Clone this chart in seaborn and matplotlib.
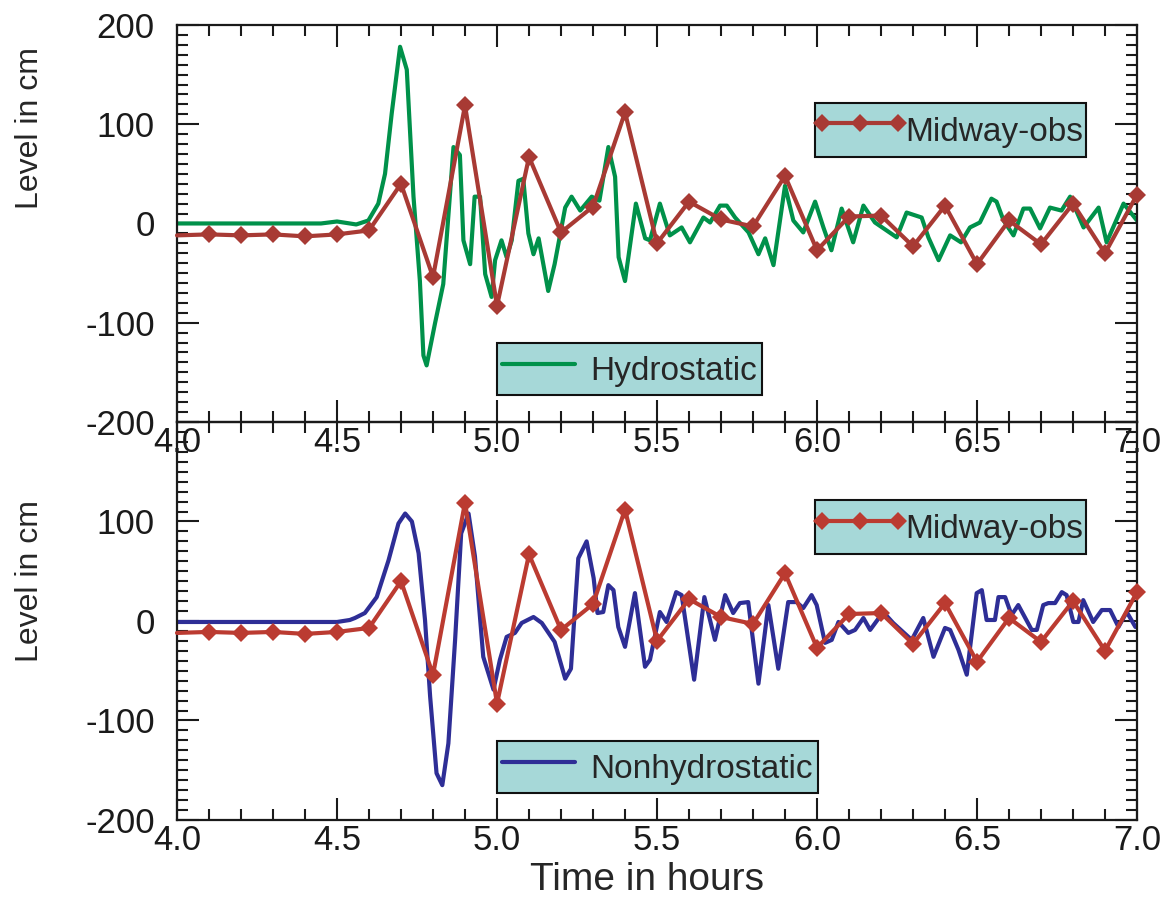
import matplotlib
matplotlib.use("Agg")
import matplotlib.pyplot as plt
from matplotlib.lines import Line2D
from matplotlib.legend_handler import HandlerLine2D
from matplotlib.ticker import MultipleLocator, FormatStrFormatter
import seaborn as sns
import pandas as pd

# Midway observations (every 0.1 hour)
obs_time = [4.0, 4.1, 4.2, 4.3, 4.4, 4.5, 4.6, 4.7, 4.8, 4.9, 5.0,
            5.1, 5.2, 5.3, 5.4, 5.5, 5.6, 5.7, 5.8, 5.9, 6.0,
            6.1, 6.2, 6.3, 6.4, 6.5, 6.6, 6.7, 6.8, 6.9, 7.0]
obs_level = [-12, -11, -12, -11, -13, -11, -7, 40, -54, 119, -83,
             67, -9, 17, 112, -20, 22, 4, -3, 48, -27,
             7, 8, -23, 18, -41, 3, -21, 20, -30, 29]

# hydrostatic model (vertices)
hyd_time = [4.0, 4.45, 4.5, 4.56, 4.598, 4.629, 4.65, 4.671, 4.697, 4.718,
            4.739, 4.759, 4.77, 4.78, 4.806, 4.832, 4.864, 4.884, 4.895, 4.916,
            4.93, 4.947, 4.963, 4.983, 4.994, 5.014, 5.03, 5.046, 5.067, 5.082,
            5.098, 5.114, 5.13, 5.16, 5.18, 5.213, 5.233, 5.26, 5.296, 5.32,
            5.348, 5.369, 5.38, 5.4, 5.434, 5.463, 5.478, 5.509, 5.54, 5.577,
            5.603, 5.645, 5.666, 5.697, 5.718, 5.744, 5.786, 5.817, 5.838, 5.864,
            5.9, 5.926, 5.957, 5.994, 6.02, 6.045, 6.077, 6.113, 6.145, 6.181,
            6.249, 6.28, 6.327, 6.348, 6.38, 6.416, 6.45, 6.478, 6.509, 6.545,
            6.561, 6.583, 6.614, 6.645, 6.666, 6.697, 6.728, 6.764, 6.791, 6.833,
            6.88, 6.905, 6.958, 7.0]
hyd_level = [0, 0, 2, -1, 3, 20, 50, 111, 178, 155,
             27, -58, -133, -143, -101, -61, 77, 69, -17, -41,
             27, 27, -51, -74, -37, -17, -34, -17, 43, 45,
             -10, -31, -15, -68, -41, 16, 27, 13, 27, 23,
             77, 47, -34, -58, 20, -15, -17, 20, -12, -4,
             -19, 6, 1, 18, 18, 6, -9, -31, -15, -42,
             38, 3, -9, 22, -4, -27, 15, -19, 18, 1,
             -14, 11, 6, -14, -37, -12, -19, -4, 1, 25,
             22, 3, -12, 15, 15, -5, 16, 13, 27, -4,
             16, -19, 20, 3]

# nonhydrostatic model (vertices)
non_time = [4.0, 4.5, 4.54, 4.556, 4.587, 4.624, 4.661, 4.692, 4.713, 4.734,
            4.755, 4.775, 4.791, 4.811, 4.829, 4.848, 4.869, 4.888, 4.911, 4.931,
            4.957, 4.989, 5.009, 5.03, 5.056, 5.077, 5.114, 5.14, 5.18, 5.213,
            5.231, 5.254, 5.28, 5.302, 5.314, 5.332, 5.348, 5.364, 5.379, 5.4,
            5.431, 5.4625, 5.478, 5.509, 5.53, 5.56, 5.577, 5.616, 5.648, 5.681,
            5.713, 5.738, 5.759, 5.785, 5.817, 5.848, 5.879, 5.91, 5.936, 5.957,
            5.983, 5.999, 6.025, 6.046, 6.067, 6.098, 6.119, 6.145, 6.166, 6.207,
            6.238, 6.296, 6.332, 6.364, 6.4, 6.416, 6.442, 6.468, 6.499, 6.515,
            6.53, 6.556, 6.567, 6.588, 6.608, 6.629, 6.671, 6.687, 6.707, 6.723,
            6.744, 6.765, 6.78, 6.801, 6.817, 6.832, 6.863, 6.89, 6.916, 6.942,
            6.968, 6.995]
non_level = [-1, -1, 1, 3, 8, 24, 61, 98, 108, 100,
             68, 1, -76, -153, -165, -123, -19, 88, 108, 65,
             -36, -69, -39, -16, -12, -2, 4, -2, -21, -58,
             -48, 63, 80, 43, 8, 9, 36, 31, -6, -26,
             28, -46, -39, 9, -1, 29, 26, -59, 24, -19,
             26, 8, 18, 19, -63, 16, -48, 19, 19, 13,
             26, 16, -22, -19, -1, -12, -9, 3, -9, 9,
             -2, -19, 3, -36, -7, -9, -29, -54, 28, 31,
             1, 1, 24, 24, 6, 16, -9, -9, 16, 18,
             18, 29, 26, -1, -1, 21, -1, 11, 11, -6,
             9, -6]

panels = [("Hydrostatic", hyd_time, hyd_level, "#00914a", "#a83a34"),
          ("Nonhydrostatic", non_time, non_level, "#2e2e96", "#bb3b31")]

sns.set_style("ticks")
plt.rcParams["font.family"] = ["Liberation Sans", "DejaVu Sans"]
plt.rcParams["axes.unicode_minus"] = False

fig = plt.figure(figsize=(11.7, 9.11), dpi=100)
ax_top = fig.add_axes([0.1513, 0.5368, 0.8205, 0.4358])
ax_bot = fig.add_axes([0.1513, 0.0999, 0.8205, 0.4369])
# top panel's x labels spill into the bottom panel, keep them visible
ax_top.set_zorder(3)
ax_top.patch.set_alpha(0)

box_color = "#a6d8d8"

for ax, (name, t, lev, mcolor, ocolor), ylab_y in zip(
        [ax_top, ax_bot], panels, [0.74, 0.60]):
    df_model = pd.DataFrame({"time": t, "level": lev})
    df_obs = pd.DataFrame({"time": obs_time, "level": obs_level})

    sns.lineplot(data=df_model, x="time", y="level", ax=ax, color=mcolor,
                 linewidth=3, legend=False, zorder=2)
    sns.lineplot(data=df_obs, x="time", y="level", ax=ax, color=ocolor,
                 linewidth=3, marker="D", markersize=9, markeredgewidth=0,
                 markevery=list(range(1, len(obs_time))), clip_on=False,
                 legend=False, zorder=3)

    ax.set_xlim(4.0, 7.0)
    ax.set_ylim(-200, 200)
    ax.xaxis.set_major_locator(MultipleLocator(0.5))
    ax.xaxis.set_minor_locator(MultipleLocator(0.1))
    ax.xaxis.set_major_formatter(FormatStrFormatter("%.1f"))
    ax.yaxis.set_major_locator(MultipleLocator(100))
    ax.yaxis.set_minor_locator(MultipleLocator(10))
    ax.tick_params(which="both", direction="in", top=True, right=True,
                   width=1.5, colors="#1a1a1a")
    ax.tick_params(which="major", length=16)
    ax.tick_params(which="minor", length=8)
    ax.tick_params(axis="x", which="major", pad=3, labelsize=25)
    ax.tick_params(axis="y", which="major", pad=16, labelsize=25)
    for sp in ax.spines.values():
        sp.set_linewidth(1.6)
        sp.set_color("#1a1a1a")

    ax.set_xlabel("")
    ax.set_ylabel("Level in cm", fontsize=23)
    ax.yaxis.set_label_coords(-0.1375, ylab_y)

    obs_handle = Line2D([], [], color=ocolor, linewidth=3, marker="D",
                        markersize=9, markeredgewidth=0)
    leg_obs = ax.legend(handles=[obs_handle], labels=["Midway-obs"],
                        loc="upper left", bbox_to_anchor=(0.6646, 0.8035),
                        handler_map={obs_handle: HandlerLine2D(numpoints=3, marker_pad=0.1)},
                        handlelength=2.5, handleheight=1.8, handletextpad=0.1,
                        borderpad=0.1, borderaxespad=0, fancybox=False,
                        framealpha=1, facecolor=box_color, edgecolor="#111111",
                        fontsize=24)
    leg_obs.get_frame().set_linewidth(1.5)
    ax.add_artist(leg_obs)

    model_handle = Line2D([], [], color=mcolor, linewidth=3)
    leg_mod = ax.legend(handles=[model_handle], labels=[name],
                        loc="upper left", bbox_to_anchor=(0.3333, 0.199),
                        handlelength=2.2, handleheight=1.55, handletextpad=0.45,
                        borderpad=0.15, borderaxespad=0, fancybox=False,
                        framealpha=1, facecolor=box_color, edgecolor="#111111",
                        fontsize=24)
    leg_mod.get_frame().set_linewidth(1.5)

ax_bot.set_yticks([-200, -100, 0, 100, 200])
ax_bot.set_yticklabels(["-200", "-100", "0", "100", ""])
ax_bot.set_xlabel("Time in hours", fontsize=28)
ax_bot.xaxis.set_label_coords(0.49, -0.105)

fig.savefig("out.png", dpi=100)
